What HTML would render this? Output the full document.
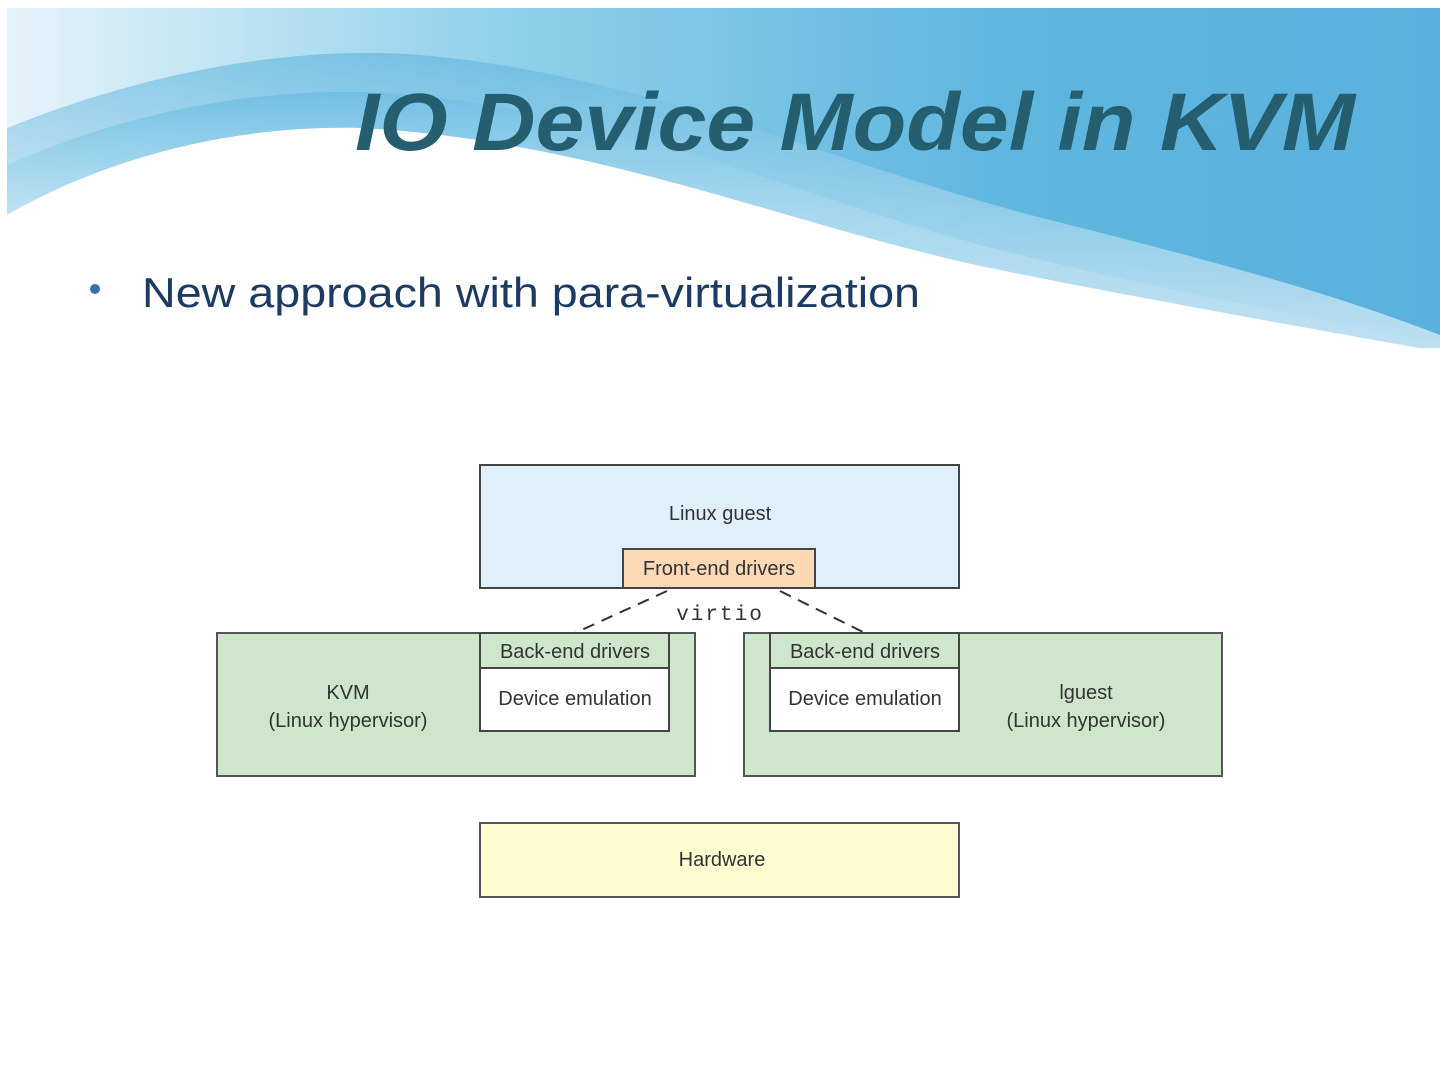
<!DOCTYPE html>
<html><head><style>
html,body{margin:0;padding:0;background:#fff;}
</style></head><body>
<svg width="1440" height="1080" viewBox="0 0 1440 1080" xmlns="http://www.w3.org/2000/svg" style="display:block">
<defs>
<linearGradient id="sky" x1="0" y1="0" x2="1" y2="0">
<stop offset="0" stop-color="#e6f3fa"/><stop offset="0.35" stop-color="#8fd0ea"/><stop offset="0.7" stop-color="#5fb6df"/><stop offset="1" stop-color="#5ab1dd"/>
</linearGradient>
<linearGradient id="band" x1="0" y1="0" x2="0" y2="1">
<stop offset="0" stop-color="#5bb3de"/><stop offset="1" stop-color="#ffffff"/>
</linearGradient>
<linearGradient id="fade" x1="0" y1="0" x2="0" y2="1">
<stop offset="0" stop-color="#6fbfe4" stop-opacity="0.9"/><stop offset="1" stop-color="#fff" stop-opacity="0"/>
</linearGradient>
</defs>
<rect x="7" y="8" width="1433" height="340" fill="url(#sky)"/>
<path d="M7,128 C150,70 300,45 420,55 C650,75 850,170 1050,220 C1250,270 1350,300 1440,335 L1440,348 L7,348 Z" fill="url(#band)" opacity="0.6"/>
<path d="M7,165 C120,115 240,90 360,92 C600,100 800,200 1000,250 C1200,300 1340,320 1440,345 L1440,348 L7,348 Z" fill="url(#fade)"/>
<path d="M7,215 C120,150 250,125 360,128 C600,140 800,230 1000,270 C1200,310 1350,335 1440,352 L1440,360 L7,360 Z" fill="#fff"/>
<rect x="7" y="240" width="600" height="120" fill="#fff"/>
<text x="355" y="150" font-family="Liberation Sans, sans-serif" font-size="82" font-weight="bold" font-style="italic" fill="#255e6e" textLength="1000" lengthAdjust="spacingAndGlyphs">IO Device Model in KVM</text>
<circle cx="95" cy="289" r="5" fill="#3f6ea8"/>
<text x="142" y="307" font-family="Liberation Sans, sans-serif" font-size="42" fill="#1c3a63" textLength="778" lengthAdjust="spacingAndGlyphs">New approach with para-virtualization</text>

<g font-family="Liberation Sans, sans-serif" font-size="20" fill="#333" stroke-width="2">
<rect x="480" y="465" width="479" height="123" fill="#dff0fb" stroke="#444"/>
<text x="720" y="520" text-anchor="middle">Linux guest</text>
<rect x="623" y="549" width="192" height="39" fill="#fcd9b5" stroke="#444"/>
<text x="719" y="575" text-anchor="middle">Front-end drivers</text>
<line x1="667" y1="591" x2="575" y2="633" stroke="#333" stroke-dasharray="12,8"/>
<line x1="780" y1="591" x2="865" y2="633" stroke="#333" stroke-dasharray="12,8"/>
<text x="720" y="620" text-anchor="middle" font-family="Liberation Mono, monospace" font-size="21" letter-spacing="2">virtio</text>

<rect x="217" y="633" width="478" height="143" fill="#cde6cc" stroke="#555"/>
<rect x="480" y="633" width="189" height="35" fill="#cde6cc" stroke="#444"/>
<rect x="480" y="668" width="189" height="63" fill="#fff" stroke="#444"/>
<text x="575" y="658" text-anchor="middle">Back-end drivers</text>
<text x="575" y="705" text-anchor="middle">Device emulation</text>
<text x="348" y="699" text-anchor="middle">KVM</text>
<text x="348" y="727" text-anchor="middle">(Linux hypervisor)</text>

<rect x="744" y="633" width="478" height="143" fill="#cde6cc" stroke="#555"/>
<rect x="770" y="633" width="189" height="35" fill="#cde6cc" stroke="#444"/>
<rect x="770" y="668" width="189" height="63" fill="#fff" stroke="#444"/>
<text x="865" y="658" text-anchor="middle">Back-end drivers</text>
<text x="865" y="705" text-anchor="middle">Device emulation</text>
<text x="1086" y="699" text-anchor="middle">lguest</text>
<text x="1086" y="727" text-anchor="middle">(Linux hypervisor)</text>

<rect x="480" y="823" width="479" height="74" fill="#fdfbd0" stroke="#555"/>
<text x="722" y="866" text-anchor="middle">Hardware</text>
</g>
</svg>
</body></html>
